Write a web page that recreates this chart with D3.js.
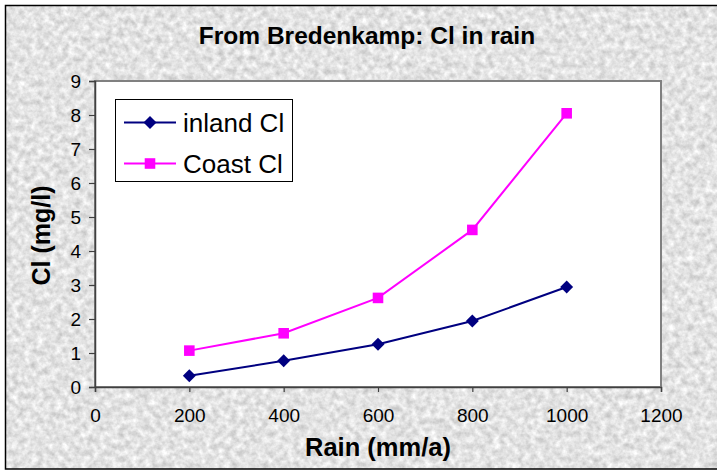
<!DOCTYPE html>
<html>
<head>
<meta charset="utf-8">
<script src="https://cdn.jsdelivr.net/npm/d3@7"></script>
<style>
  html, body { margin: 0; padding: 0; background: #fff; }
  svg { display: block; font-family: Arial, "Liberation Sans", sans-serif; }
</style>
</head>
<body>
<svg id="chart" width="717" height="470"></svg>
<script>
const rain = [200, 400, 600, 800, 1000];
const inlandCl = [0.33, 0.77, 1.26, 1.94, 2.94];
const coastCl = [1.07, 1.58, 2.62, 4.62, 8.05];
const xTicks = [0, 200, 400, 600, 800, 1000, 1200];
const yTicks = [0, 1, 2, 3, 4, 5, 6, 7, 8, 9];
const seriesNames = ["inland Cl", "Coast Cl"];
const titleText = "From Bredenkamp: Cl in rain";
const xTitle = "Rain (mm/a)";
const yTitle = "Cl (mg/l)";

const svg = d3.select("#chart");
const defs = svg.append("defs");
const filt = defs.append("filter").attr("id", "granite")
  .attr("x", 0).attr("y", 0).attr("width", "100%").attr("height", "100%")
  .attr("color-interpolation-filters", "sRGB");
filt.append("feTurbulence").attr("type", "fractalNoise")
  .attr("baseFrequency", 0.16).attr("numOctaves", 3).attr("seed", 7).attr("result", "n");
filt.append("feColorMatrix").attr("in", "n").attr("type", "matrix")
  .attr("values", "0.32 0 0 0 0.73  0.32 0 0 0 0.73  0.32 0 0 0 0.73  0 0 0 0 1");

// chart area with texture
svg.append("rect").attr("x", 5.5).attr("y", 5.5).attr("width", 720).attr("height", 463.5)
  .attr("fill", "#e2e2e2").attr("filter", "url(#granite)");
svg.append("rect").attr("x", 5.5).attr("y", 5.5).attr("width", 720).attr("height", 463.5)
  .attr("fill", "none").attr("stroke", "#000").attr("stroke-width", 1.5);

const L = 95, R = 661, T = 81, B = 387;
const x = d3.scaleLinear().domain([0, 1200]).range([L, R]);
const y = d3.scaleLinear().domain([0, 9]).range([B, T]);

// plot area
svg.append("rect").attr("x", L).attr("y", T).attr("width", R - L).attr("height", B - T)
  .attr("fill", "#fff").attr("stroke", "#808080").attr("stroke-width", 2);

// axes
const xAxis = svg.append("g").attr("transform", `translate(0,${B})`)
  .call(d3.axisBottom(x).tickValues(xTicks).tickSize(5).tickPadding(17).tickFormat(d3.format("d")));
const yAxis = svg.append("g").attr("transform", `translate(${L},0)`)
  .call(d3.axisLeft(y).tickValues(yTicks).tickSize(6).tickPadding(8).tickFormat(d3.format("d")));
[xAxis, yAxis].forEach(g => {
  g.select(".domain").attr("stroke", "#404040").attr("stroke-width", 1.5);
  g.selectAll(".tick line").attr("stroke", "#404040").attr("stroke-width", 1.2);
  g.selectAll(".tick text").attr("font-size", 19).attr("fill", "#000")
    .attr("font-family", "Arial, 'Liberation Sans', sans-serif");
});

// series
const series = [
  { name: seriesNames[0], vals: inlandCl, color: "#000080", sym: d3.symbolSquare, size: 84, rot: 45 },
  { name: seriesNames[1], vals: coastCl, color: "#FF00FF", sym: d3.symbolSquare, size: 112, rot: 0 }
];
const line = d3.line().x((d, i) => x(rain[i])).y(d => y(d));
series.forEach(s => {
  svg.append("path").datum(s.vals).attr("d", line)
    .attr("fill", "none").attr("stroke", s.color).attr("stroke-width", 2);
  svg.selectAll(null).data(s.vals).enter().append("path")
    .attr("d", d3.symbol().type(s.sym).size(s.size))
    .attr("transform", (d, i) => `translate(${x(rain[i])},${y(d)}) rotate(${s.rot})`)
    .attr("fill", s.color);
});

// legend
const lg = svg.append("g");
lg.append("rect").attr("x", 115.5).attr("y", 99.5).attr("width", 177).attr("height", 82)
  .attr("fill", "#fff").attr("stroke", "#000").attr("stroke-width", 1);
series.forEach((s, i) => {
  const yy = 122.5 + i * 41;
  lg.append("line").attr("x1", 124).attr("x2", 176).attr("y1", yy).attr("y2", yy)
    .attr("stroke", s.color).attr("stroke-width", 2);
  lg.append("path").attr("d", d3.symbol().type(s.sym).size(s.size))
    .attr("transform", `translate(150,${yy}) rotate(${s.rot})`).attr("fill", s.color);
  lg.append("text").attr("x", 183).attr("y", yy + 9.5).attr("font-size", 26)
    .attr("fill", "#000").text(s.name);
});

// titles
svg.append("text").attr("x", 367).attr("y", 44).attr("text-anchor", "middle")
  .attr("font-size", 24.5).attr("font-weight", "bold").text(titleText);
svg.append("text").attr("x", 378).attr("y", 456).attr("text-anchor", "middle")
  .attr("font-size", 25.5).attr("font-weight", "bold").text(xTitle);
svg.append("text").attr("transform", "translate(50,235.5) rotate(-90)").attr("text-anchor", "middle")
  .attr("font-size", 25).attr("font-weight", "bold").text(yTitle);
</script>
</body>
</html>
